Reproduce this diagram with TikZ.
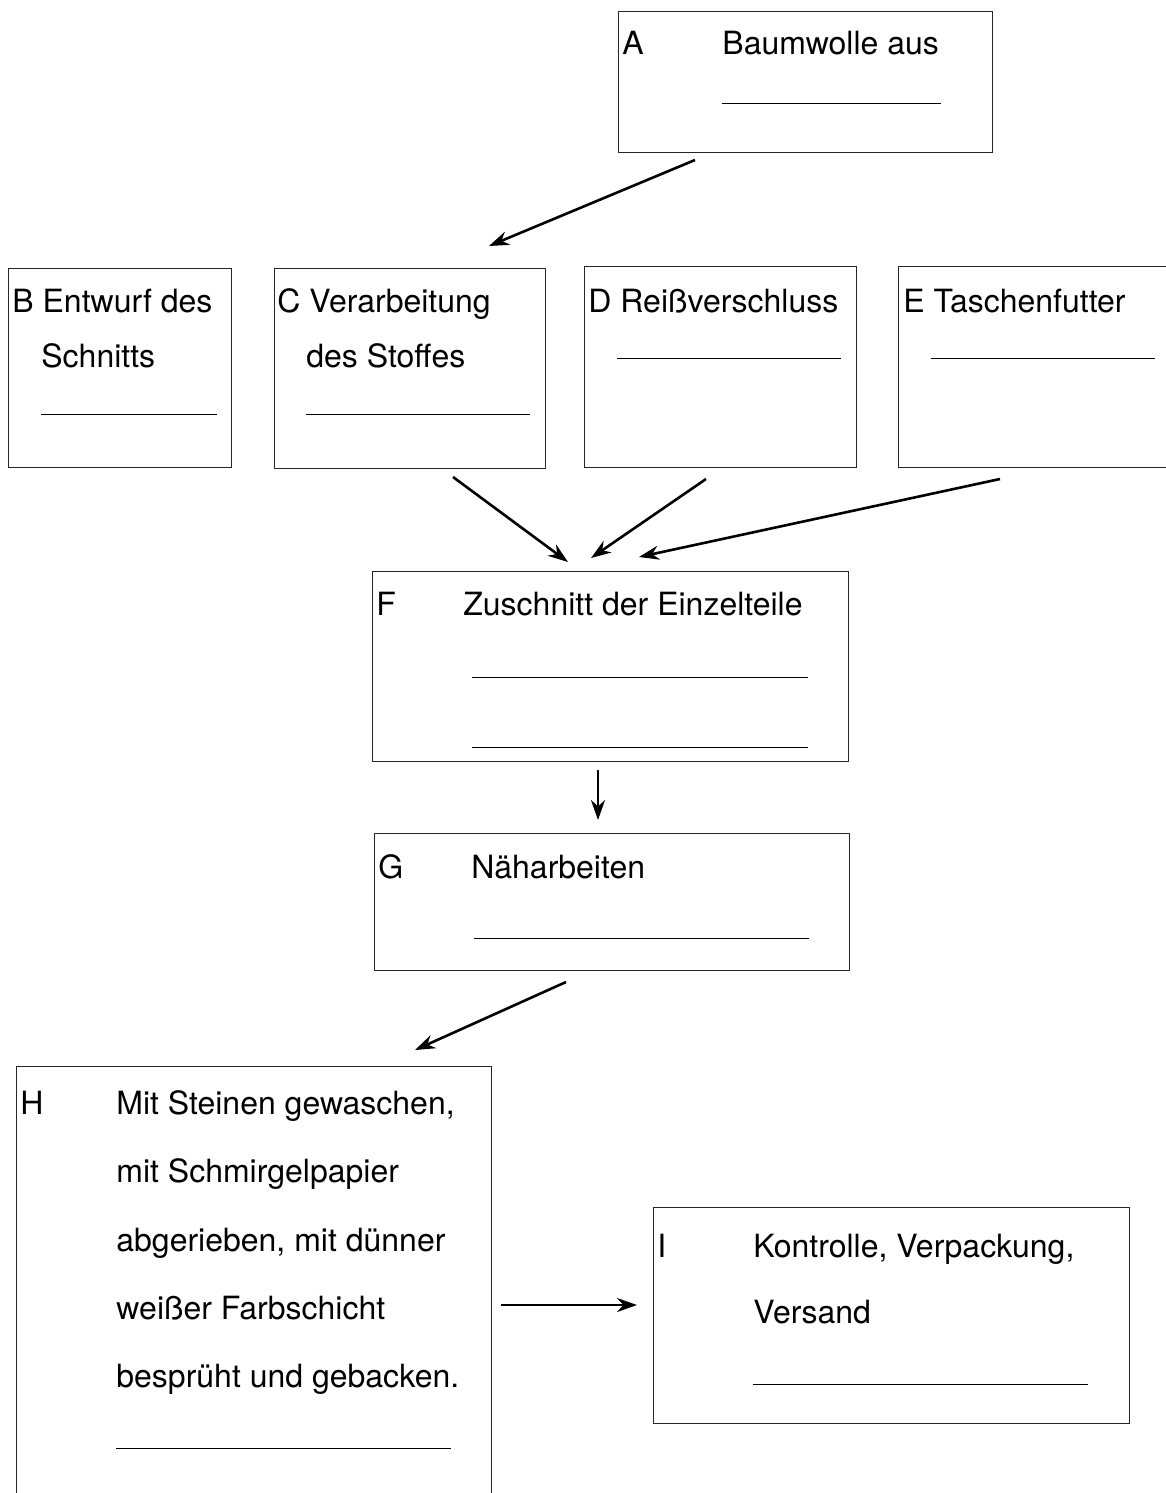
\documentclass[tikz,border=0pt]{standalone}
\usepackage{fontspec}
\setmainfont{TeX Gyre Heros}
\usepackage{tikz}
\usetikzlibrary{arrows.meta}
\tikzset{>={Stealth[length=10pt,width=7pt]}}

\begin{document}
\begin{tikzpicture}[x=0.5pt, y=-0.5pt,
  kasten/.style={draw=black!85, line width=0.7pt, inner sep=0pt, anchor=north west},
  txt/.style={inner sep=0pt, anchor=base west, font=\fontsize{16}{19}\selectfont},
  luecke/.style={line width=0.5pt},
  pfeil/.style={->, line width=1.3pt}]

% Marco de la hoja
\useasboundingbox (0,0) rectangle (1166,1493);
\clip (0,0) rectangle (1166,1493);

% Cajas
\node[kasten, minimum width=187pt,   minimum height=70.5pt]  (A) at (618,11)   {};
\node[kasten, minimum width=111.5pt, minimum height=99.5pt]  (B) at (8,268)    {};
\node[kasten, minimum width=135.5pt, minimum height=100pt]   (C) at (274,268)  {};
\node[kasten, minimum width=136pt,   minimum height=100.5pt] (D) at (584,266)  {};
\node[kasten, minimum width=141pt,   minimum height=100.5pt] (E) at (898,266)  {};
\node[kasten, minimum width=238pt,   minimum height=95pt]    (F) at (372,571)  {};
\node[kasten, minimum width=237.5pt, minimum height=68.5pt]  (G) at (374,833)  {};
\node[kasten, minimum width=237.5pt, minimum height=222pt]   (H) at (16,1066)  {};
\node[kasten, minimum width=238pt,   minimum height=108pt]   (I) at (653,1207) {};

% Textos
\node[txt] (A-l) at (622,55)  {A};
\node[txt] (A-t) at (722,55)  {Baumwolle aus};
\node[txt] (B-t) at (12,312)  {B Entwurf des};
\node[txt] (B-u) at (41,367)  {Schnitts};
\node[txt] (C-t) at (277,312) {C Verarbeitung};
\node[txt] (C-u) at (306,367) {des Stoffes};
\node[txt] (D-t) at (588,312) {D Reißverschluss};
\node[txt] (E-t) at (903,312) {E Taschenfutter};
\node[txt] (F-l) at (376,615) {F};
\node[txt] (F-t) at (463,615) {Zuschnitt der Einzelteile};
\node[txt] (G-l) at (378,878) {G};
\node[txt] (G-t) at (471,878) {Näharbeiten};
\node[txt] (H-l) at (20,1114) {H};
\foreach \y/\t [count=\i] in {1114/{Mit Steinen gewaschen,}, 1182/{mit Schmirgelpapier},
  1251/{abgerieben, mit dünner}, 1319/{weißer Farbschicht}, 1387/{besprüht und gebacken.}}
  \node[txt] (H-\i) at (116,\y) {\t};
\node[txt] (I-l) at (657,1257) {I};
\node[txt] (I-t) at (753,1257) {Kontrolle, Verpackung,};
\node[txt] (I-u) at (753,1323) {Versand};

% Lineas para rellenar
\draw[luecke] (722,104)  -- (941,104);
\draw[luecke] (41,414)   -- (217,414);
\draw[luecke] (306,414)  -- (530,414);
\draw[luecke] (617,358)  -- (841,358);
\draw[luecke] (931,358)  -- (1155,358);
\draw[luecke] (472,677)  -- (808,677);
\draw[luecke] (472,747)  -- (808,747);
\draw[luecke] (474,938)  -- (809,938);
\draw[luecke] (116,1448) -- (451,1448);
\draw[luecke] (753,1384) -- (1088,1384);

% Puntos de las flechas
\coordinate (A-aus) at (695,160);  \coordinate (C-ein) at (489,246);
\coordinate (C-aus) at (453,477);  \coordinate (F-ein1) at (568,562);
\coordinate (D-aus) at (706,479);  \coordinate (F-ein2) at (591,558);
\coordinate (E-aus) at (1000,479); \coordinate (F-ein3) at (639,557);
\coordinate (F-aus) at (598,770);  \coordinate (G-ein) at (598,820);
\coordinate (G-aus) at (566,982);  \coordinate (H-ein) at (415,1050);
\coordinate (H-aus) at (501,1305); \coordinate (I-ein) at (637,1305);

% Flechas
\draw[pfeil] (A-aus) -- (C-ein);
\draw[pfeil] (C-aus) -- (F-ein1);
\draw[pfeil] (D-aus) -- (F-ein2);
\draw[pfeil] (E-aus) -- (F-ein3);
\draw[pfeil] (F-aus) -- (G-ein);
\draw[pfeil] (G-aus) -- (H-ein);
\draw[pfeil] (H-aus) -- (I-ein);

\end{tikzpicture}
\end{document}
